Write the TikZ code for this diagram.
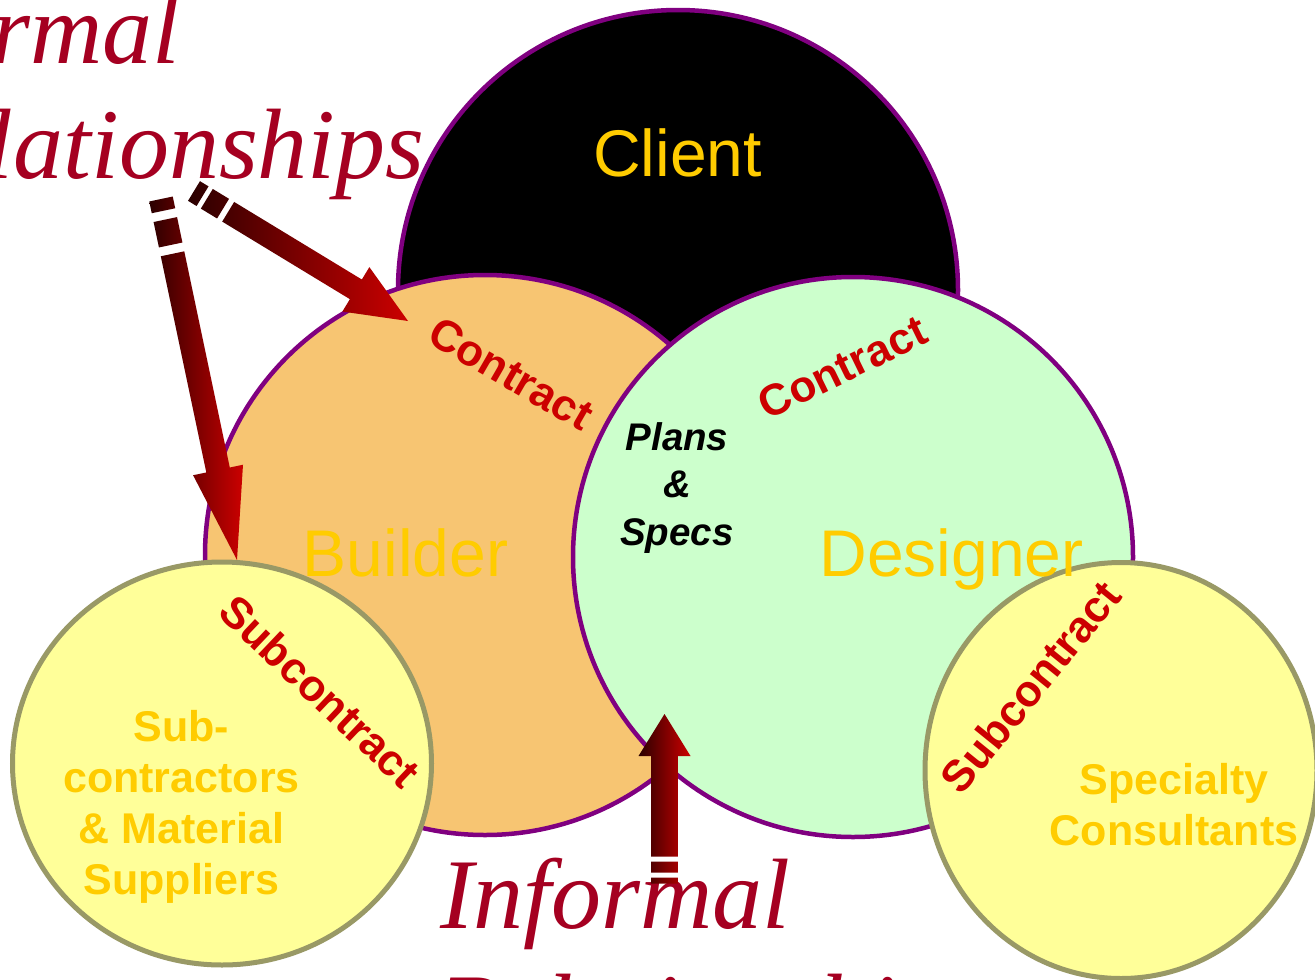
\documentclass[tikz,border=0pt]{standalone}
\usepackage{fontspec}
\setmainfont{Liberation Serif}
\setsansfont{Liberation Sans}
\usetikzlibrary{calc,shapes.geometric}
\definecolor{purp}{HTML}{800080}
\definecolor{buildfill}{HTML}{F7C572}
\definecolor{desfill}{HTML}{CCFFCC}
\definecolor{subfill}{HTML}{FFFF99}
\definecolor{subline}{HTML}{999966}
\definecolor{gold}{HTML}{FFCC00}
\definecolor{contred}{HTML}{CC0000}
\definecolor{wine}{HTML}{A50021}
\definecolor{arrdark}{HTML}{2A0000}
\definecolor{arrred}{HTML}{CC0000}
\newcommand\fsz[2]{\fontsize{#1}{#2}\selectfont}
\newcommand\twolines[2]{\vbox{\hbox{#1}\hbox{#2}}}
% piece of a dashed tail: tail, tip, name, from, to, half width
\newcommand\tailpiece[6]{%
  \path ($(#1)!#4!(#2)$) coordinate (#3a) ($(#1)!#5!(#2)$) coordinate (#3b);
  \path ($(#3a)!#6!90:(#2)$) coordinate (#3a1) ($(#3a)!#6!-90:(#2)$) coordinate (#3a2)
        ($(#3b)!#6!90:(#2)$) coordinate (#3b1) ($(#3b)!#6!-90:(#2)$) coordinate (#3b2);
}
% body of a fat arrow: tail, tip, name, head length, shaft half width, head half width, shaft start
\newcommand\arrowbody[7]{%
  \path ($(#2)!#4!(#1)$) coordinate (#3hb) ($(#1)!#7!(#2)$) coordinate (#3ss);
  \path ($(#3ss)!#5!90:(#2)$) coordinate (#3s1) ($(#3ss)!#5!-90:(#2)$) coordinate (#3s2)
        ($(#3hb)!#5!90:(#2)$) coordinate (#3h1) ($(#3hb)!#5!-90:(#2)$) coordinate (#3h2)
        ($(#3hb)!#6!90:(#2)$) coordinate (#3w1) ($(#3hb)!#6!-90:(#2)$) coordinate (#3w2);
}
\begin{document}
\begin{tikzpicture}[x=1pt,y=-1pt,
  bigcircle/.style={circle, draw=purp, line width=4.5pt, minimum size=560pt, inner sep=0pt},
  subcircle/.style={ellipse, draw=subline, line width=5pt, fill=subfill, inner sep=0pt},
  partytext/.style={font=\sffamily\fsz{66}{79}, text=gold, inner sep=0pt},
  contracttext/.style={font=\sffamily\bfseries\fsz{44}{53}, text=contred, inner sep=0pt},
  membertext/.style={font=\sffamily\bfseries\fsz{43}{51}, text=gold, align=center, inner sep=0pt},
  planstext/.style={font=\sffamily\bfseries\itshape\fsz{38.5}{47.5}, text=black, align=center, inner sep=0pt},
  relntext/.style={font=\itshape\fsz{100}{115}, text=wine, inner sep=0pt},
  arrowshade/.style={left color=arrdark, right color=arrred}]
\useasboundingbox (0,0) rectangle (1315,980);
\fill[white] (0,0) rectangle (1315,980);

% circles
\node[bigcircle, fill=black] (client) at (678,290) {};
\node[bigcircle, fill=buildfill] (builder) at (485,555) {};
\node[bigcircle, fill=desfill] (designer) at (853,557) {};
\node[subcircle, minimum width=419pt, minimum height=403pt] (subs) at (222,763.5) {};
\node[subcircle, minimum width=392pt, minimum height=416pt] (spec) at (1121,770.5) {};

% party labels
\node[partytext, anchor=base] (clientlbl) at (677.5,176) {Client};
\node[partytext, anchor=base] (builderlbl) at (405.5,576) {Builder};
\node[partytext, anchor=base] (designerlbl) at (951.5,576) {Designer};

% relation labels
\node[contracttext, rotate=-30] (contractL) at (511,373.5) {Contract};
\node[contracttext, rotate=26] (contractR) at (842.5,367.5) {Contract};
\node[contracttext, rotate=-43.5] (subcontractL) at (320,691) {Subcontract};
\node[contracttext, rotate=51] (subcontractR) at (1030.5,686.5) {Subcontract};
\node[planstext, anchor=north] (plans) at (677,422) {Plans\\\&\\Specs};

% member labels
\node[membertext, anchor=north] (subslbl) at (181.5,710.5) {Sub-\\contractors\\\& Material\\Suppliers};
\node[membertext, anchor=north] (speclbl) at (1174,763) {Specialty\\Consultants};

% formal / informal (anchored at the baseline of the second line)
\node[relntext, anchor=base west] (formal) at (-120,178) {\twolines{Formal}{Relationships}};
\node[relntext, anchor=base west] (informal) at (440,1043) {\twolines{Informal}{Relationships}};

% arrow 1 (formal -> contract)
\coordinate (a1tail) at (194,191);
\coordinate (a1tip) at (408,321);
\tailpiece{a1tail}{a1tip}{a1p}{0pt}{10pt}{11.5pt}
\tailpiece{a1tail}{a1tip}{a1q}{15pt}{34pt}{11.5pt}
\arrowbody{a1tail}{a1tip}{a1}{61pt}{11.5pt}{26pt}{40pt}
\shade[arrowshade]
  (a1pa1) -- (a1pb1) -- (a1pb2) -- (a1pa2) -- cycle
  (a1qa1) -- (a1qb1) -- (a1qb2) -- (a1qa2) -- cycle
  (a1s1) -- (a1h1) -- (a1w1) -- (a1tip) -- (a1w2) -- (a1h2) -- (a1s2) -- cycle;

% arrow 2 (formal -> subcontract)
\coordinate (a2tail) at (161,199);
\coordinate (a2tip) at (237,560);
\tailpiece{a2tail}{a2tip}{a2p}{0pt}{12pt}{12pt}
\tailpiece{a2tail}{a2tip}{a2q}{21pt}{47pt}{12pt}
\arrowbody{a2tail}{a2tip}{a2}{92pt}{12pt}{25.5pt}{56pt}
\shade[arrowshade]
  (a2pa1) -- (a2pb1) -- (a2pb2) -- (a2pa2) -- cycle
  (a2qa1) -- (a2qb1) -- (a2qb2) -- (a2qa2) -- cycle
  (a2s1) -- (a2h1) -- (a2w1) -- (a2tip) -- (a2w2) -- (a2h2) -- (a2s2) -- cycle;

% arrow 3 (informal -> plans & specs)
\coordinate (a3tail) at (664.5,883.5);
\coordinate (a3tip) at (664.5,714);
\tailpiece{a3tail}{a3tip}{a3p}{0pt}{6pt}{13.3pt}
\tailpiece{a3tail}{a3tip}{a3q}{11pt}{22pt}{13.3pt}
\arrowbody{a3tail}{a3tip}{a3}{42pt}{13.3pt}{26pt}{27pt}
\shade[arrowshade]
  (a3pa1) -- (a3pb1) -- (a3pb2) -- (a3pa2) -- cycle
  (a3qa1) -- (a3qb1) -- (a3qb2) -- (a3qa2) -- cycle
  (a3s1) -- (a3h1) -- (a3w1) -- (a3tip) -- (a3w2) -- (a3h2) -- (a3s2) -- cycle;
\end{tikzpicture}
\end{document}
